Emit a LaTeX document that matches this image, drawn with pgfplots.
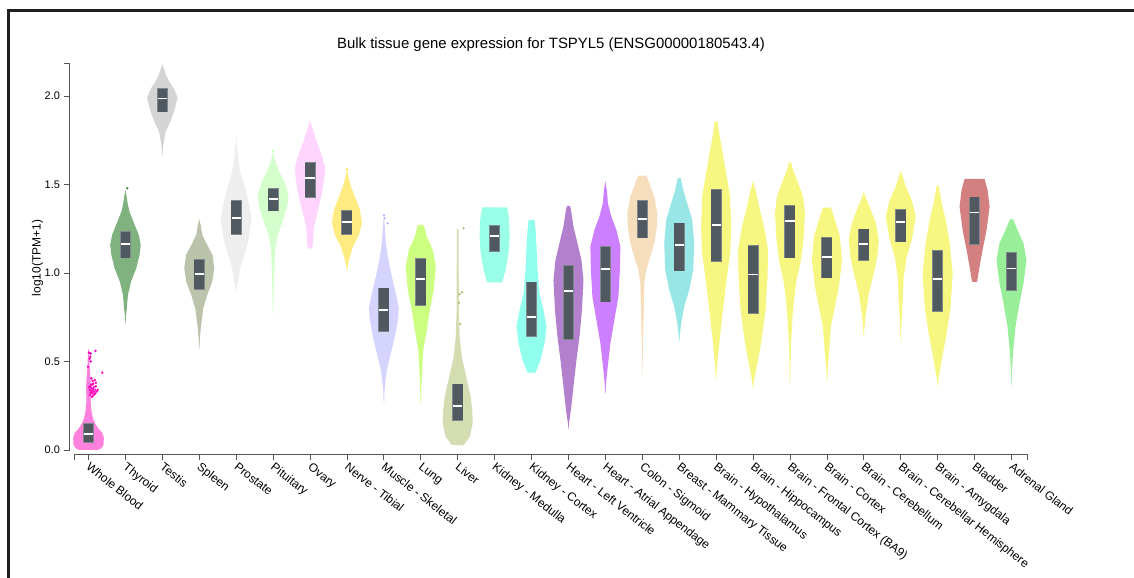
\documentclass[border=0pt]{standalone}
\usepackage{fontspec}
\setmainfont{Liberation Sans}
\usepackage{pgfplots}
\usepackage{pgfplotstable}
\pgfplotsset{compat=1.18}

\definecolor{cWB}{HTML}{FF00BB}
\definecolor{cThy}{HTML}{006600}
\definecolor{cTes}{HTML}{AAAAAA}
\definecolor{cSpl}{HTML}{778855}
\definecolor{cPro}{HTML}{DDDDDD}
\definecolor{cPit}{HTML}{AAFF99}
\definecolor{cOva}{HTML}{FFAAFF}
\definecolor{cNer}{HTML}{FFD700}
\definecolor{cMus}{HTML}{AAAAFF}
\definecolor{cLun}{HTML}{99FF00}
\definecolor{cLiv}{HTML}{AABB66}
\definecolor{cKM}{HTML}{33FFCC}
\definecolor{cKC}{HTML}{22FFDD}
\definecolor{cHLV}{HTML}{660099}
\definecolor{cHAA}{HTML}{9900FF}
\definecolor{cCol}{HTML}{EEBB77}
\definecolor{cBre}{HTML}{33CCCC}
\definecolor{cBra}{HTML}{EEEE00}
\definecolor{cBla}{HTML}{AA0000}
\definecolor{cAdr}{HTML}{33DD33}
\definecolor{boxc}{HTML}{4F595F}
\definecolor{boxedge}{HTML}{7F878C}
\definecolor{axc}{HTML}{555555}

\pgfdeclareplotmark{medbar}{%
  \pgfpathrectangle{\pgfpoint{-4.6bp}{-0.85bp}}{\pgfpoint{9.2bp}{1.7bp}}%
  \pgfusepathqfill}

% violin profiles: y = log10(TPM+1), w = half width in pixels
\pgfplotstableread[row sep=\\]{y w\\ 0.0 -0.4\\ 0.0 9\\ 0.01 13\\ 0.03 15\\ 0.07 15.3\\ 0.10 13.5\\ 0.12 10\\ 0.15 6.5\\ 0.18 4.5\\ 0.22 3\\ 0.28 2\\ 0.35 2.5\\ 0.40 2\\ 0.48 1\\ 0.56 0.4\\ 0.57 -0.4\\}\tWB
\pgfplotstableread[row sep=\\]{y w\\ 0.71 -0.4\\ 0.79 1.2\\ 0.876 2.5\\ 0.95 5.5\\ 1.026 10.8\\ 1.10 14\\ 1.158 15.3\\ 1.215 13.3\\ 1.29 8\\ 1.346 4\\ 1.40 2\\ 1.44 1\\ 1.47 -0.4\\}\tThy
\pgfplotstableread[row sep=\\]{y w\\ 1.661 -0.4\\ 1.742 1.5\\ 1.798 3.3\\ 1.855 8\\ 1.911 11.7\\ 1.99 15.3\\ 2.043 11.3\\ 2.08 7\\ 2.119 3.5\\ 2.157 1.5\\ 2.179 -0.4\\}\tTes
\pgfplotstableread[row sep=\\]{y w\\ 0.565 -0.4\\ 0.687 1.5\\ 0.80 4\\ 0.876 8\\ 0.951 13\\ 1.026 15\\ 1.10 13.3\\ 1.158 8\\ 1.215 3\\ 1.27 1.5\\ 1.305 -0.4\\}\tSpl
\pgfplotstableread[row sep=\\]{y w\\ 0.894 -0.4\\ 0.951 2\\ 1.026 4\\ 1.10 8\\ 1.177 12\\ 1.252 14\\ 1.309 15.5\\ 1.384 13\\ 1.478 9\\ 1.572 4\\ 1.667 1.5\\ 1.789 -0.4\\}\tPro
\pgfplotstableread[row sep=\\]{y w\\ 0.768 -0.4\\ 0.979 1\\ 1.13 2\\ 1.224 5\\ 1.30 10\\ 1.375 14\\ 1.435 15.5\\ 1.507 12\\ 1.563 7\\ 1.62 3\\ 1.686 -0.4\\}\tPit
\pgfplotstableread[row sep=\\]{y w\\ 1.139 -0.4\\ 1.139 2\\ 1.15 2.5\\ 1.262 4\\ 1.356 8\\ 1.45 12\\ 1.544 14.5\\ 1.601 15\\ 1.676 11\\ 1.751 6\\ 1.808 3\\ 1.864 -0.4\\}\tOva
\pgfplotstableread[row sep=\\]{y w\\ 1.011 -0.4\\ 1.073 2\\ 1.149 6\\ 1.215 12\\ 1.281 15\\ 1.356 13\\ 1.431 8\\ 1.488 4\\ 1.544 1.5\\ 1.582 -0.4\\}\tNer
\pgfplotstableread[row sep=\\]{y w\\ 0.27 -0.4\\ 0.358 1\\ 0.452 3\\ 0.546 7\\ 0.64 11\\ 0.734 14\\ 0.80 15\\ 0.885 12\\ 0.979 8\\ 1.073 4.5\\ 1.168 2\\ 1.262 1\\ 1.315 -0.4\\}\tMus
\pgfplotstableread[row sep=\\]{y w\\ 0.254 -0.4\\ 0.414 1\\ 0.565 2.5\\ 0.678 6\\ 0.791 9\\ 0.904 13\\ 1.036 15\\ 1.13 12\\ 1.205 6\\ 1.271 3\\ 1.271 -0.4\\}\tLun
\pgfplotstableread[row sep=\\]{y w\\ 0.028 -0.4\\ 0.028 6\\ 0.075 12\\ 0.151 15\\ 0.226 14.5\\ 0.301 13\\ 0.377 10\\ 0.452 7\\ 0.527 4\\ 0.64 2\\ 0.772 1.2\\ 1.017 1\\ 1.247 0.8\\ 1.247 -0.4\\}\tLiv
\pgfplotstableread[row sep=\\]{y w\\ 0.947 -0.4\\ 0.947 7.5\\ 1.017 11\\ 1.111 14\\ 1.205 15\\ 1.30 14.5\\ 1.356 13\\ 1.371 12.5\\ 1.371 -0.4\\}\tKM
\pgfplotstableread[row sep=\\]{y w\\ 0.437 -0.4\\ 0.437 4\\ 0.508 9\\ 0.603 13\\ 0.697 15\\ 0.791 12\\ 0.885 8\\ 1.017 6\\ 1.149 5\\ 1.243 4\\ 1.30 3\\ 1.30 -0.4\\}\tKC
\pgfplotstableread[row sep=\\]{y w\\ 0.117 -0.4\\ 0.226 2.5\\ 0.358 5\\ 0.508 8\\ 0.64 11\\ 0.791 13.5\\ 0.96 15\\ 1.073 13\\ 1.168 9\\ 1.262 5\\ 1.356 2.5\\ 1.379 1.5\\ 1.379 -0.4\\}\tHLV
\pgfplotstableread[row sep=\\]{y w\\ 0.32 -0.4\\ 0.452 2\\ 0.603 5\\ 0.734 9\\ 0.866 13\\ 1.017 14.5\\ 1.149 15\\ 1.243 11\\ 1.318 6\\ 1.394 2.5\\ 1.469 1.5\\ 1.516 -0.4\\}\tHAA
\pgfplotstableread[row sep=\\]{y w\\ 0.414 -0.4\\ 0.697 1\\ 0.942 2\\ 1.017 4\\ 1.092 8\\ 1.168 12\\ 1.262 14.5\\ 1.337 15\\ 1.431 12\\ 1.507 7\\ 1.55 4\\ 1.55 -0.4\\}\tCol
\pgfplotstableread[row sep=\\]{y w\\ 0.606 -0.4\\ 0.716 2\\ 0.81 5\\ 0.904 10\\ 1.017 14\\ 1.168 15\\ 1.30 13\\ 1.394 8\\ 1.469 4\\ 1.535 1.5\\ 1.535 -0.4\\}\tBre
\pgfplotstableread[row sep=\\]{y w\\ 0.40 -0.4\\ 0.565 2.5\\ 0.753 6\\ 0.942 10\\ 1.111 14\\ 1.262 15\\ 1.431 14\\ 1.563 10\\ 1.695 6\\ 1.789 3\\ 1.855 1.5\\ 1.855 -0.4\\}\tHyp
\pgfplotstableread[row sep=\\]{y w\\ 0.349 -0.4\\ 0.452 3\\ 0.603 8\\ 0.791 12.5\\ 0.979 14.5\\ 1.13 15\\ 1.262 11\\ 1.375 6\\ 1.469 2.5\\ 1.52 -0.4\\}\tHip
\pgfplotstableread[row sep=\\]{y w\\ 0.358 -0.4\\ 0.603 1\\ 0.791 3\\ 0.942 6\\ 1.073 11\\ 1.186 13.5\\ 1.337 15\\ 1.431 13\\ 1.525 7\\ 1.582 3\\ 1.625 1\\ 1.625 -0.4\\}\tFro
\pgfplotstableread[row sep=\\]{y w\\ 0.386 -0.4\\ 0.508 1.5\\ 0.697 4\\ 0.81 8\\ 0.923 12\\ 1.073 15\\ 1.205 13\\ 1.30 8\\ 1.369 4\\ 1.369 -0.4\\}\tCtx
\pgfplotstableread[row sep=\\]{y w\\ 0.634 -0.4\\ 0.772 2\\ 0.885 5\\ 0.998 10\\ 1.092 13.5\\ 1.186 15\\ 1.281 12\\ 1.356 7\\ 1.412 3\\ 1.46 -0.4\\}\tCer
\pgfplotstableread[row sep=\\]{y w\\ 0.606 -0.4\\ 0.791 1.5\\ 0.979 3\\ 1.092 6\\ 1.186 11\\ 1.318 15\\ 1.412 11\\ 1.488 5\\ 1.544 2\\ 1.58 -0.4\\}\tCH
\pgfplotstableread[row sep=\\]{y w\\ 0.358 -0.4\\ 0.508 4\\ 0.659 9\\ 0.81 13\\ 0.998 15\\ 1.168 12\\ 1.30 8\\ 1.394 4\\ 1.493 1\\ 1.493 -0.4\\}\tAmy
\pgfplotstableread[row sep=\\]{y w\\ 0.949 -0.4\\ 0.949 2.5\\ 1.036 5\\ 1.13 8\\ 1.243 12\\ 1.375 15\\ 1.469 13\\ 1.531 10\\ 1.531 -0.4\\}\tBla
\pgfplotstableread[row sep=\\]{y w\\ 0.358 -0.4\\ 0.546 1.5\\ 0.697 4\\ 0.829 8\\ 0.942 12\\ 1.073 15\\ 1.168 12\\ 1.243 6\\ 1.303 1.5\\ 1.303 -0.4\\}\tAdr

% boxes: index, lower quartile, median, upper quartile
\pgfplotstableread[row sep=\\]{i q1 med q3\\
0 0.045 0.09 0.147\\
1 1.086 1.162 1.233\\
2 1.911 1.985 2.038\\
3 0.908 0.993 1.073\\
4 1.22 1.311 1.409\\
5 1.352 1.418 1.475\\
6 1.427 1.535 1.623\\
7 1.22 1.286 1.352\\
8 0.672 0.791 0.913\\
9 0.819 0.966 1.079\\
10 0.169 0.25 0.371\\
11 1.124 1.209 1.267\\
12 0.644 0.753 0.947\\
13 0.625 0.90 1.041\\
14 0.838 1.023 1.149\\
15 1.199 1.305 1.407\\
16 1.013 1.156 1.281\\
17 1.068 1.27 1.469\\
18 0.772 0.992 1.153\\
19 1.086 1.294 1.38\\
20 0.974 1.092 1.20\\
21 1.073 1.162 1.247\\
22 1.177 1.288 1.356\\
23 0.785 0.964 1.126\\
24 1.164 1.341 1.427\\
25 0.904 1.026 1.115\\
}\tBox

\newcommand{\violin}[3]{%
  \addplot[fill=#2!50, draw=none, forget plot] table[x expr={#1+0.0271*\thisrow{w}}, y=y] {#3};
  \addplot[fill=#2!50, draw=none, forget plot] table[x expr={#1-0.0271*\thisrow{w}}, y=y] {#3};
}

\begin{document}
\begin{tikzpicture}
\useasboundingbox (0,0) rectangle (1134bp,578bp);
\draw[line width=2.5bp, black!88] (8.5bp,0bp) -- (8.5bp,567.5bp) -- (1134bp,567.5bp);
\node[font=\fontsize{15}{18}\selectfont] at (551bp,533bp) {Bulk tissue gene expression for TSPYL5 (ENSG00000180543.4)};
\node[rotate=90, font=\fontsize{12}{14}\selectfont] at (37.5bp,320bp) {log10(TPM+1)};
\begin{axis}[
  at={(69.5bp,124bp)}, anchor=south west,
  scale only axis, width=957.5bp, height=391bp,
  xmin=-0.515, xmax=25.42, ymin=-0.0226, ymax=2.186,
  axis x line*=bottom, axis y line*=left,
  axis line style={draw=none},
  tick align=outside, major tick length=6bp,
  tick style={color=axc, line width=0.8bp},
  ytick={0,0.5,1,1.5,2},
  /pgf/number format/assume math mode=true,
  yticklabel style={font=\fontsize{11}{13}\selectfont, /pgf/number format/.cd, fixed, fixed zerofill, precision=1},
  xtick={0,...,25},
  xticklabels={Whole Blood,Thyroid,Testis,Spleen,Prostate,Pituitary,Ovary,Nerve - Tibial,Muscle - Skeletal,Lung,Liver,Kidney - Medulla,Kidney - Cortex,Heart - Left Ventricle,Heart - Atrial Appendage,Colon - Sigmoid,Breast - Mammary Tissue,Brain - Hypothalamus,Brain - Hippocampus,Brain - Frontal Cortex (BA9),Brain - Cortex,Brain - Cerebellum,Brain - Cerebellar Hemisphere,Brain - Amygdala,Bladder,Adrenal Gland},
  xticklabel style={font=\fontsize{12}{14}\selectfont, rotate=-38, anchor=north west, inner sep=1bp, xshift=2bp, yshift=1bp},
  clip=false,
]
\draw[axc, line width=0.8bp] ([xshift=-6bp]axis cs:-0.515,2.186) -- (axis cs:-0.515,2.186) -- (axis cs:-0.515,0) -- ([xshift=-6bp]axis cs:-0.515,0);
\draw[axc, line width=0.8bp] ([yshift=-6bp]axis cs:-0.379,-0.0226) -- (axis cs:-0.379,-0.0226) -- (axis cs:25.42,-0.0226) -- ([yshift=-6bp]axis cs:25.42,-0.0226);

\violin{0}{cWB}{\tWB}
\violin{1}{cThy}{\tThy}
\violin{2}{cTes}{\tTes}
\violin{3}{cSpl}{\tSpl}
\violin{4}{cPro}{\tPro}
\violin{5}{cPit}{\tPit}
\violin{6}{cOva}{\tOva}
\violin{7}{cNer}{\tNer}
\violin{8}{cMus}{\tMus}
\violin{9}{cLun}{\tLun}
\violin{10}{cLiv}{\tLiv}
\violin{11}{cKM}{\tKM}
\violin{12}{cKC}{\tKC}
\violin{13}{cHLV}{\tHLV}
\violin{14}{cHAA}{\tHAA}
\violin{15}{cCol}{\tCol}
\violin{16}{cBre}{\tBre}
\violin{17}{cBra}{\tHyp}
\violin{18}{cBra}{\tHip}
\violin{19}{cBra}{\tFro}
\violin{20}{cBra}{\tCtx}
\violin{21}{cBra}{\tCer}
\violin{22}{cBra}{\tCH}
\violin{23}{cBra}{\tAmy}
\violin{24}{cBla}{\tBla}
\violin{25}{cAdr}{\tAdr}

% outlier points
\addplot[only marks, mark=*, mark size=1bp, color=cWB] coordinates {
(0.01,0.55) (0.05,0.527) (0.19,0.56) (0.06,0.50) (-0.01,0.47) (0.37,0.437) (0.08,0.405) (0.17,0.395) (0.2,0.38) (0.11,0.37) (0.05,0.36) (0.15,0.355) (0.08,0.35) (0.12,0.345) (0.03,0.34) (0.18,0.34) (0.09,0.335) (0.14,0.33) (0.06,0.325) (0.22,0.33) (0.1,0.32) (0.16,0.315) (0.04,0.31) (0.12,0.305) (0.2,0.36) (0.07,0.37) (0.13,0.375) (0.25,0.34) (0.09,0.3) (0.18,0.32) (0.02,0.355) (0.11,0.39) (0.06,0.545) (0.03,0.515)};
\addplot[only marks, mark=*, mark size=0.9bp, color=cLiv] coordinates {(10.16,1.252) (10.05,0.88) (10.12,0.891) (10.035,0.832) (10.07,0.712)};
\addplot[only marks, mark=*, mark size=0.8bp, color=cMus] coordinates {(8.02,1.31) (8.1,1.28) (8.0,1.325)};
\addplot[only marks, mark=*, mark size=0.9bp, color=cThy!80] coordinates {(1.05,1.478)};
\addplot[only marks, mark=*, mark size=0.8bp, color=cNer] coordinates {(7.0,1.585)};
\addplot[only marks, mark=*, mark size=0.7bp, color=cPit] coordinates {(5.0,1.69)};

% boxes (interquartile range) and medians
\addplot[only marks, mark=none, color=boxedge, forget plot, error bars/.cd, y dir=both, y explicit, error mark=none,
  error bar style={draw=boxedge, line width=11bp}]
  table[x=i, y=med, y error plus expr={\thisrow{q3}-\thisrow{med}+0.004}, y error minus expr={\thisrow{med}-\thisrow{q1}+0.004}] {\tBox};
\addplot[only marks, mark=none, color=boxc, forget plot, error bars/.cd, y dir=both, y explicit, error mark=none,
  error bar style={draw=boxc, line width=9.6bp}]
  table[x=i, y=med, y error plus expr={\thisrow{q3}-\thisrow{med}}, y error minus expr={\thisrow{med}-\thisrow{q1}}] {\tBox};
\addplot[only marks, mark=medbar, color=white, mark options={fill=white, draw=none}, forget plot]
  table[x=i, y=med] {\tBox};
\end{axis}
\end{tikzpicture}
\end{document}
